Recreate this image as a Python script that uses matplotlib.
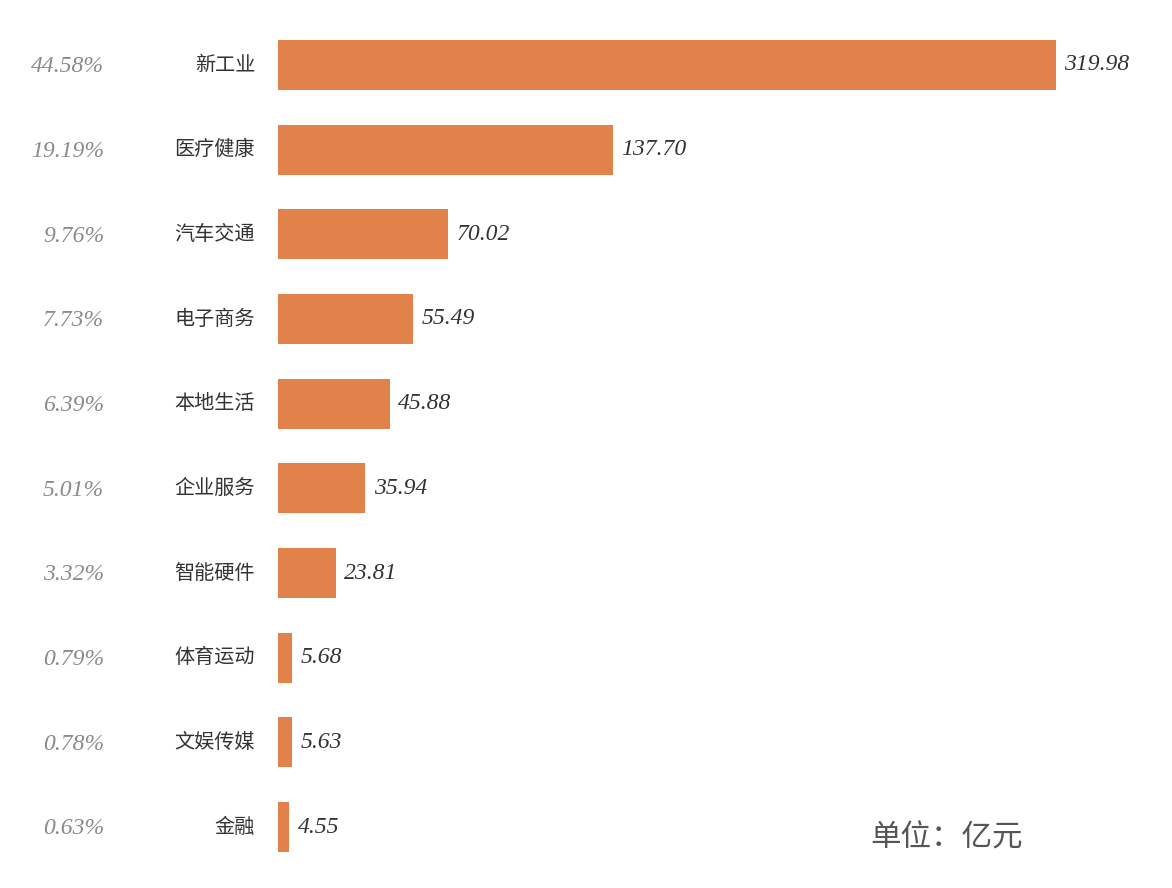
import matplotlib

matplotlib.use("Agg")
import matplotlib.pyplot as plt

categories = ["新工业", "医疗健康", "汽车交通", "电子商务", "本地生活",
              "企业服务", "智能硬件", "体育运动", "文娱传媒", "金融"]
amounts = [319.98, 137.70, 70.02, 55.49, 45.88, 35.94, 23.81, 5.68, 5.63, 4.55]
shares = ["44.58%", "19.19%", "9.76%", "7.73%", "6.39%",
          "5.01%", "3.32%", "0.79%", "0.78%", "0.63%"]

W, H = 1172, 888
fig = plt.figure(figsize=(W / 100, H / 100), dpi=100)
ax = fig.add_axes([278 / W, 0, 1 - 278 / W, 1])

step = 84.67
y = list(range(len(categories)))
ax.barh(y, amounts, height=50 / step, color="#E0824A")
ax.set_xlim(0, 319.98 * (W - 278) / 778)
ax.set_ylim(9 + (H - 827) / step, -65 / step)
ax.axis("off")

num_font = dict(family="Liberation Serif", style="italic")
for i, (v, s, c) in enumerate(zip(amounts, shares, categories)):
    ax.text(v + 3.5, i, f"{v:.2f}", va="center", ha="left",
            fontsize=17, color="#333333", **num_font)
    fig.text(104 / W, 1 - (65 + i * step) / H - 0.002, s, ha="right", va="center",
             fontsize=17, color="#8a8a8a", **num_font)
    fig.text(255 / W, 1 - (65 + i * step) / H, c, ha="right", va="center",
             fontsize=14.5, color="#333333", family=["Noto Sans CJK SC", "DejaVu Sans"])

fig.text(870 / W, 1 - 838 / H, "单位：亿元", ha="left", va="center",
         fontsize=22, color="#555555", family=["Noto Sans CJK SC", "DejaVu Sans"])

fig.savefig("out.png", dpi=100, facecolor="white")
